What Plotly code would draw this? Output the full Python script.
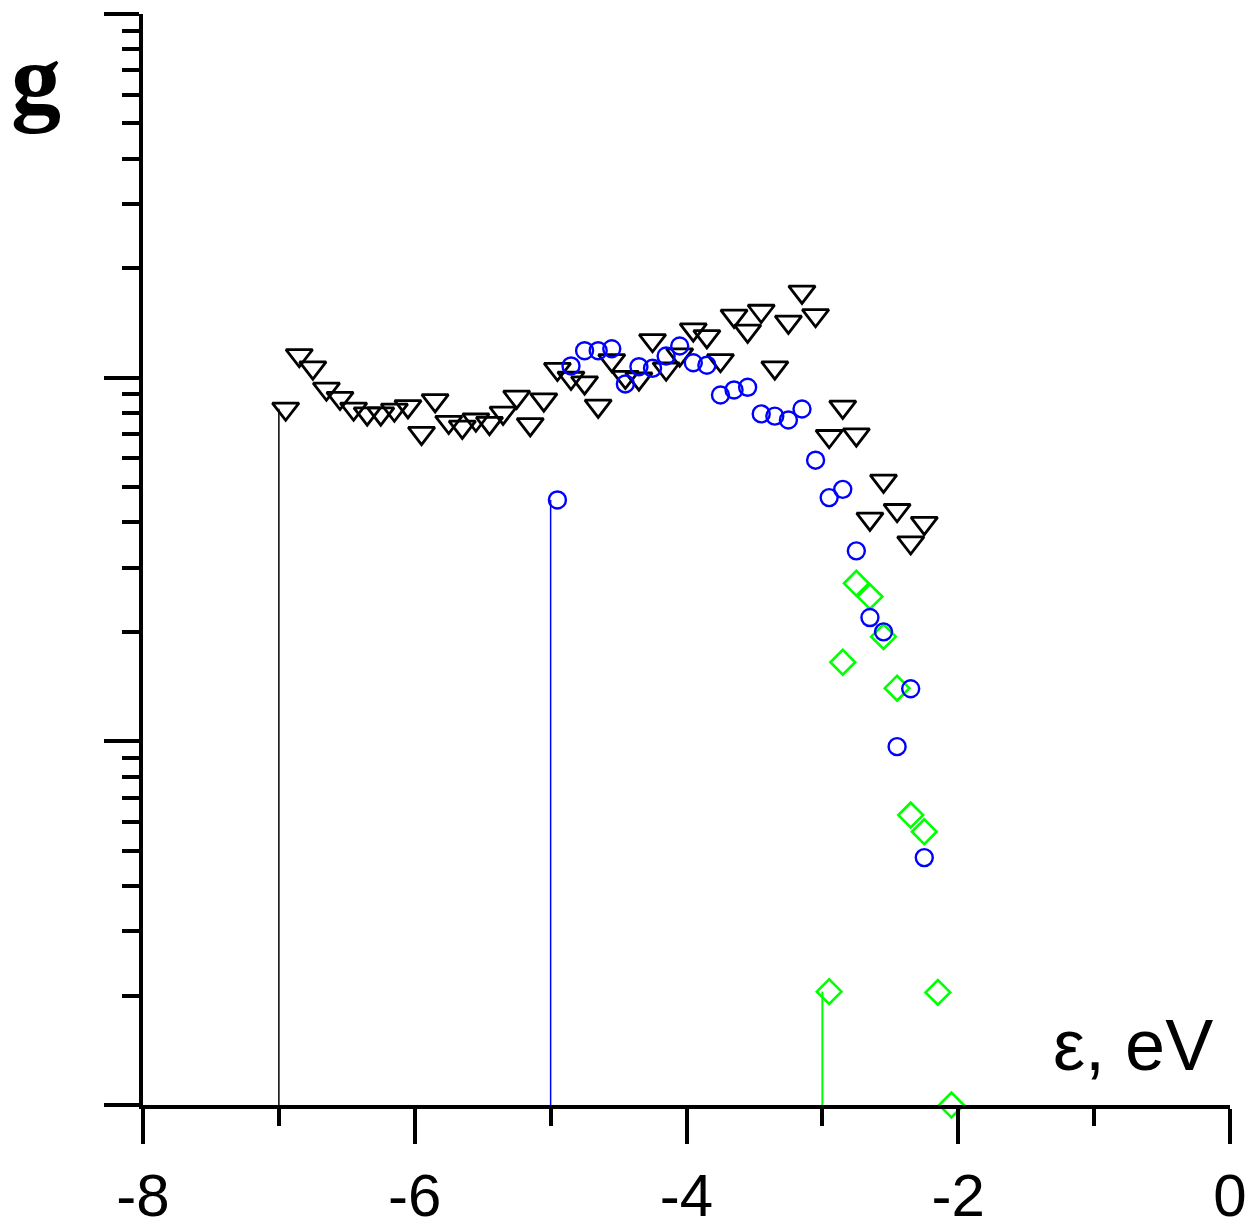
import plotly.graph_objects as go

# Energy grid (eV) and density of states g for the three sets
eps_black = [-6.95, -6.85, -6.75, -6.65, -6.55, -6.45, -6.35, -6.25, -6.15, -6.05,
             -5.95, -5.85, -5.75, -5.65, -5.55, -5.45, -5.35, -5.25, -5.15, -5.05,
             -4.95, -4.85, -4.75, -4.65, -4.55, -4.45, -4.35, -4.25, -4.15, -4.05,
             -3.95, -3.85, -3.75, -3.65, -3.55, -3.45, -3.35, -3.25, -3.15, -3.05,
             -2.95, -2.85, -2.75, -2.65, -2.55, -2.45, -2.35, -2.25]
g_black = [82.1, 115.2, 106.5, 93.2, 87.9, 82.1, 79.6, 79.6, 81.6, 83.4,
           70.4, 86.6, 75.5, 73.2, 76.6, 75.0, 80.0, 88.5, 74.4, 87.0,
           105.6, 99.8, 96.9, 83.6, 111.6, 100.4, 99.4, 126.7, 105.8, 115.7,
           135.5, 129.9, 111.6, 147.8, 134.4, 152.5, 106.5, 142.3, 172.1, 148.4,
           69.0, 83.1, 69.7, 40.9, 52.0, 43.2, 35.2, 39.8]

eps_blue = [-4.95, -4.85, -4.75, -4.65, -4.55, -4.45, -4.35, -4.25, -4.15, -4.05,
            -3.95, -3.85, -3.75, -3.65, -3.55, -3.45, -3.35, -3.25, -3.15, -3.05,
            -2.95, -2.85, -2.75, -2.65, -2.55, -2.45, -2.35, -2.25]
g_blue = [46.1, 107.7, 118.6, 118.6, 120.1, 96.1, 107.2, 106.1, 114.7, 122.2,
          109.9, 108.2, 89.6, 92.5, 94.1, 79.5, 78.4, 76.5, 82.0, 59.3,
          46.8, 49.3, 33.4, 21.9, 20.0, 9.67, 13.95, 4.79]

eps_green = [-2.95, -2.85, -2.75, -2.65, -2.55, -2.45, -2.35, -2.25, -2.15, -2.05]
g_green = [2.05, 16.5, 27.2, 25.0, 19.4, 14.0, 6.27, 5.64, 2.04, 1.0]

# Band-edge markers drawn as vertical drop lines
edge_eps = [-7, -5, -3]

x_tickvals = [-8, -6, -4, -2, 0]
x_ticktext = ["-8", "-6", "-4", "-2", "0"]
x_minor = [-7, -5, -3, -1]
y_major = [1, 10, 100, 1000]
y_minor = [m * d for d in (1, 10, 100) for m in range(2, 10)]

BLACK = "#000000"
BLUE = "#0000FF"
GREEN = "#00FF00"

fig = go.Figure()

# drop lines from the first point of each set down to the axis
for xe, ys, col, w in [(edge_eps[0], g_black, BLACK, 1.5),
                       (edge_eps[1], g_blue, BLUE, 1.5),
                       (edge_eps[2], g_green, GREEN, 2)]:
    fig.add_trace(go.Scatter(x=[xe, xe], y=[1, ys[0]], mode="lines",
                             line=dict(color=col, width=w),
                             showlegend=False, hoverinfo="skip"))

fig.add_trace(go.Scatter(
    x=eps_black, y=g_black, mode="markers", showlegend=False,
    marker=dict(symbol="triangle-down-open", size=23, color=BLACK,
                line=dict(color=BLACK, width=2.8))))

fig.add_trace(go.Scatter(
    x=eps_green, y=g_green, mode="markers", showlegend=False, cliponaxis=False,
    marker=dict(symbol="diamond-open", size=19, color=GREEN,
                line=dict(color=GREEN, width=2.6))))

fig.add_trace(go.Scatter(
    x=eps_blue, y=g_blue, mode="markers", showlegend=False,
    marker=dict(symbol="circle-open", size=17, color=BLUE,
                line=dict(color=BLUE, width=2.4))))

tick_font = dict(family="Arial, Liberation Sans, sans-serif", size=60, color=BLACK)

fig.update_xaxes(
    range=[-8, 0], showgrid=False, zeroline=False,
    showline=True, linewidth=4, linecolor=BLACK,
    tickmode="array", tickvals=x_tickvals, ticktext=x_ticktext,
    ticks="outside", ticklen=35, tickwidth=4, tickcolor=BLACK,
    tickfont=tick_font, automargin=False,
    minor=dict(tickmode="array", tickvals=x_minor, ticks="outside",
               ticklen=17, tickwidth=4, tickcolor=BLACK, showgrid=False),
)

fig.update_yaxes(
    type="log", range=[0, 3], showgrid=False, zeroline=False,
    showline=True, linewidth=4, linecolor=BLACK,
    tickmode="array", tickvals=y_major, showticklabels=False,
    ticks="outside", ticklen=35, tickwidth=4, tickcolor=BLACK, automargin=False,
    minor=dict(tickmode="array", tickvals=y_minor, ticks="outside",
               ticklen=17, tickwidth=4, tickcolor=BLACK, showgrid=False),
)

fig.add_annotation(
    text="g", xref="paper", yref="paper", x=-0.0985, y=0.94,
    xanchor="center", yanchor="middle", showarrow=False,
    font=dict(family="Liberation Serif, Times New Roman, serif", size=100,
              color=BLACK, weight="bold"))

fig.add_annotation(
    text="ε, eV", xref="paper", yref="paper", x=0.986, y=0.055,
    xanchor="right", yanchor="middle", showarrow=False,
    font=dict(family="Arial, Liberation Sans, sans-serif", size=72, color=BLACK))

fig.update_layout(
    width=1257, height=1231,
    margin=dict(l=143, r=27, t=14, b=126, autoexpand=False),
    plot_bgcolor="white", paper_bgcolor="white",
)

fig.write_html("out.html")
